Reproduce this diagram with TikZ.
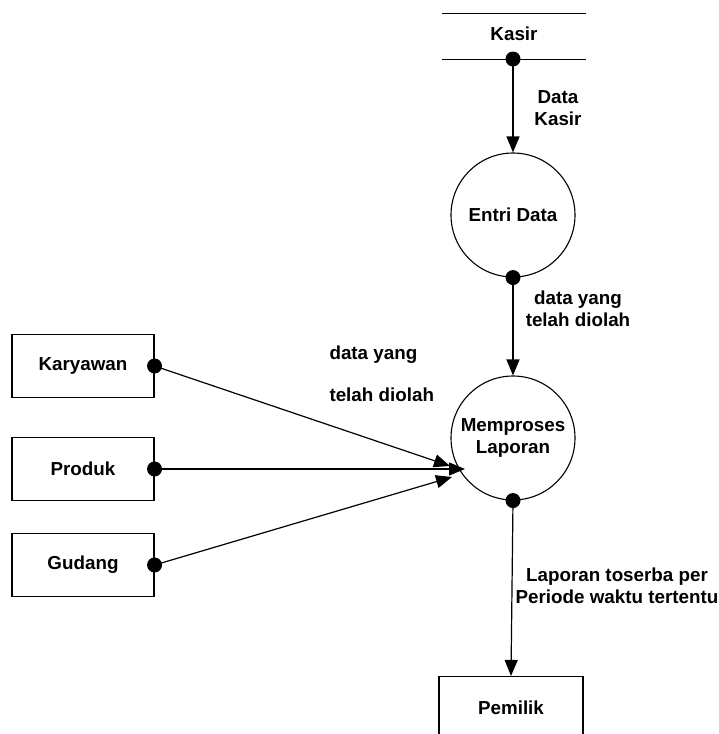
\documentclass[tikz,border=0pt]{standalone}
\usepackage{fontspec}
\setmainfont{Liberation Sans}
\usetikzlibrary{arrows.meta}

\begin{document}
\begin{tikzpicture}[x=1pt,y=-1pt,
		every node/.style={font=\fontsize{18.8}{21.5}\selectfont\bfseries},
		entity/.style={draw,line width=1.1pt,minimum width=142pt,minimum height=63pt},
		proc/.style={draw,circle,line width=1.1pt,minimum size=124pt,inner sep=0pt,align=center},
		lbl/.style={align=center},
		dot/.style={circle,fill,inner sep=0pt,minimum size=15pt},
		flow/.style={line width=1.2pt,-{Triangle[width=13pt,length=16pt]}}]
		\useasboundingbox (0,0) rectangle (718,734);
		% data store
		\draw[line width=1pt] (442,13) -- (586,13);
		\draw[line width=1pt] (442,59) -- (586,59);
		\node (kasir) at (514,34) {Kasir};
		\node[dot] (dkasir) at (513,59) {};
		% processes
		\node[proc] (entri) at (513,215) {Entri Data};
		\node[dot] (dentri) at (entri.south) {};
		\node[proc] (mem) at (513,438) {Memproses\\Laporan};
		\node[dot] (dmem) at (mem.south) {};
		% entities
		\node[entity] (kary) at (83,366) {Karyawan};
		\node[entity] (prod) at (83,469) {Produk};
		\node[entity] (gud) at (83,565) {Gudang};
		\node[dot] (dkary) at (kary.east) {};
		\node[dot] (dprod) at (prod.east) {};
		\node[dot] (dgud) at (gud.east) {};
		\node[entity,minimum width=144pt] (pemilik) at (511,708) {Pemilik};
		% flows
		\coordinate (inK) at (450,466);
		\coordinate (inP) at (465,469);
		\coordinate (inG) at (452,477);
		\draw[flow] (dkasir.center) -- (entri.north);
		\draw[flow] (dentri.center) -- (mem.north);
		\draw[flow] (dmem.center) -- (pemilik.north);
		\draw[flow] (dkary.center) -- (inK);
		\draw[flow] (dprod.center) -- (inP);
		\draw[flow] (dgud.center) -- (inG);
		% labels
		\node[lbl] (lkasir) at (558,108) {Data\\Kasir};
		\node[lbl] (lentri) at (578,309) {data yang\\telah diolah};
		\node[align=left,anchor=west] (lin) at (326,374) {data yang\\[20.5pt]telah diolah};
		\node[lbl] (lmem) at (617,586) {Laporan toserba per\\Periode waktu tertentu};
	\end{tikzpicture}
\end{document}
